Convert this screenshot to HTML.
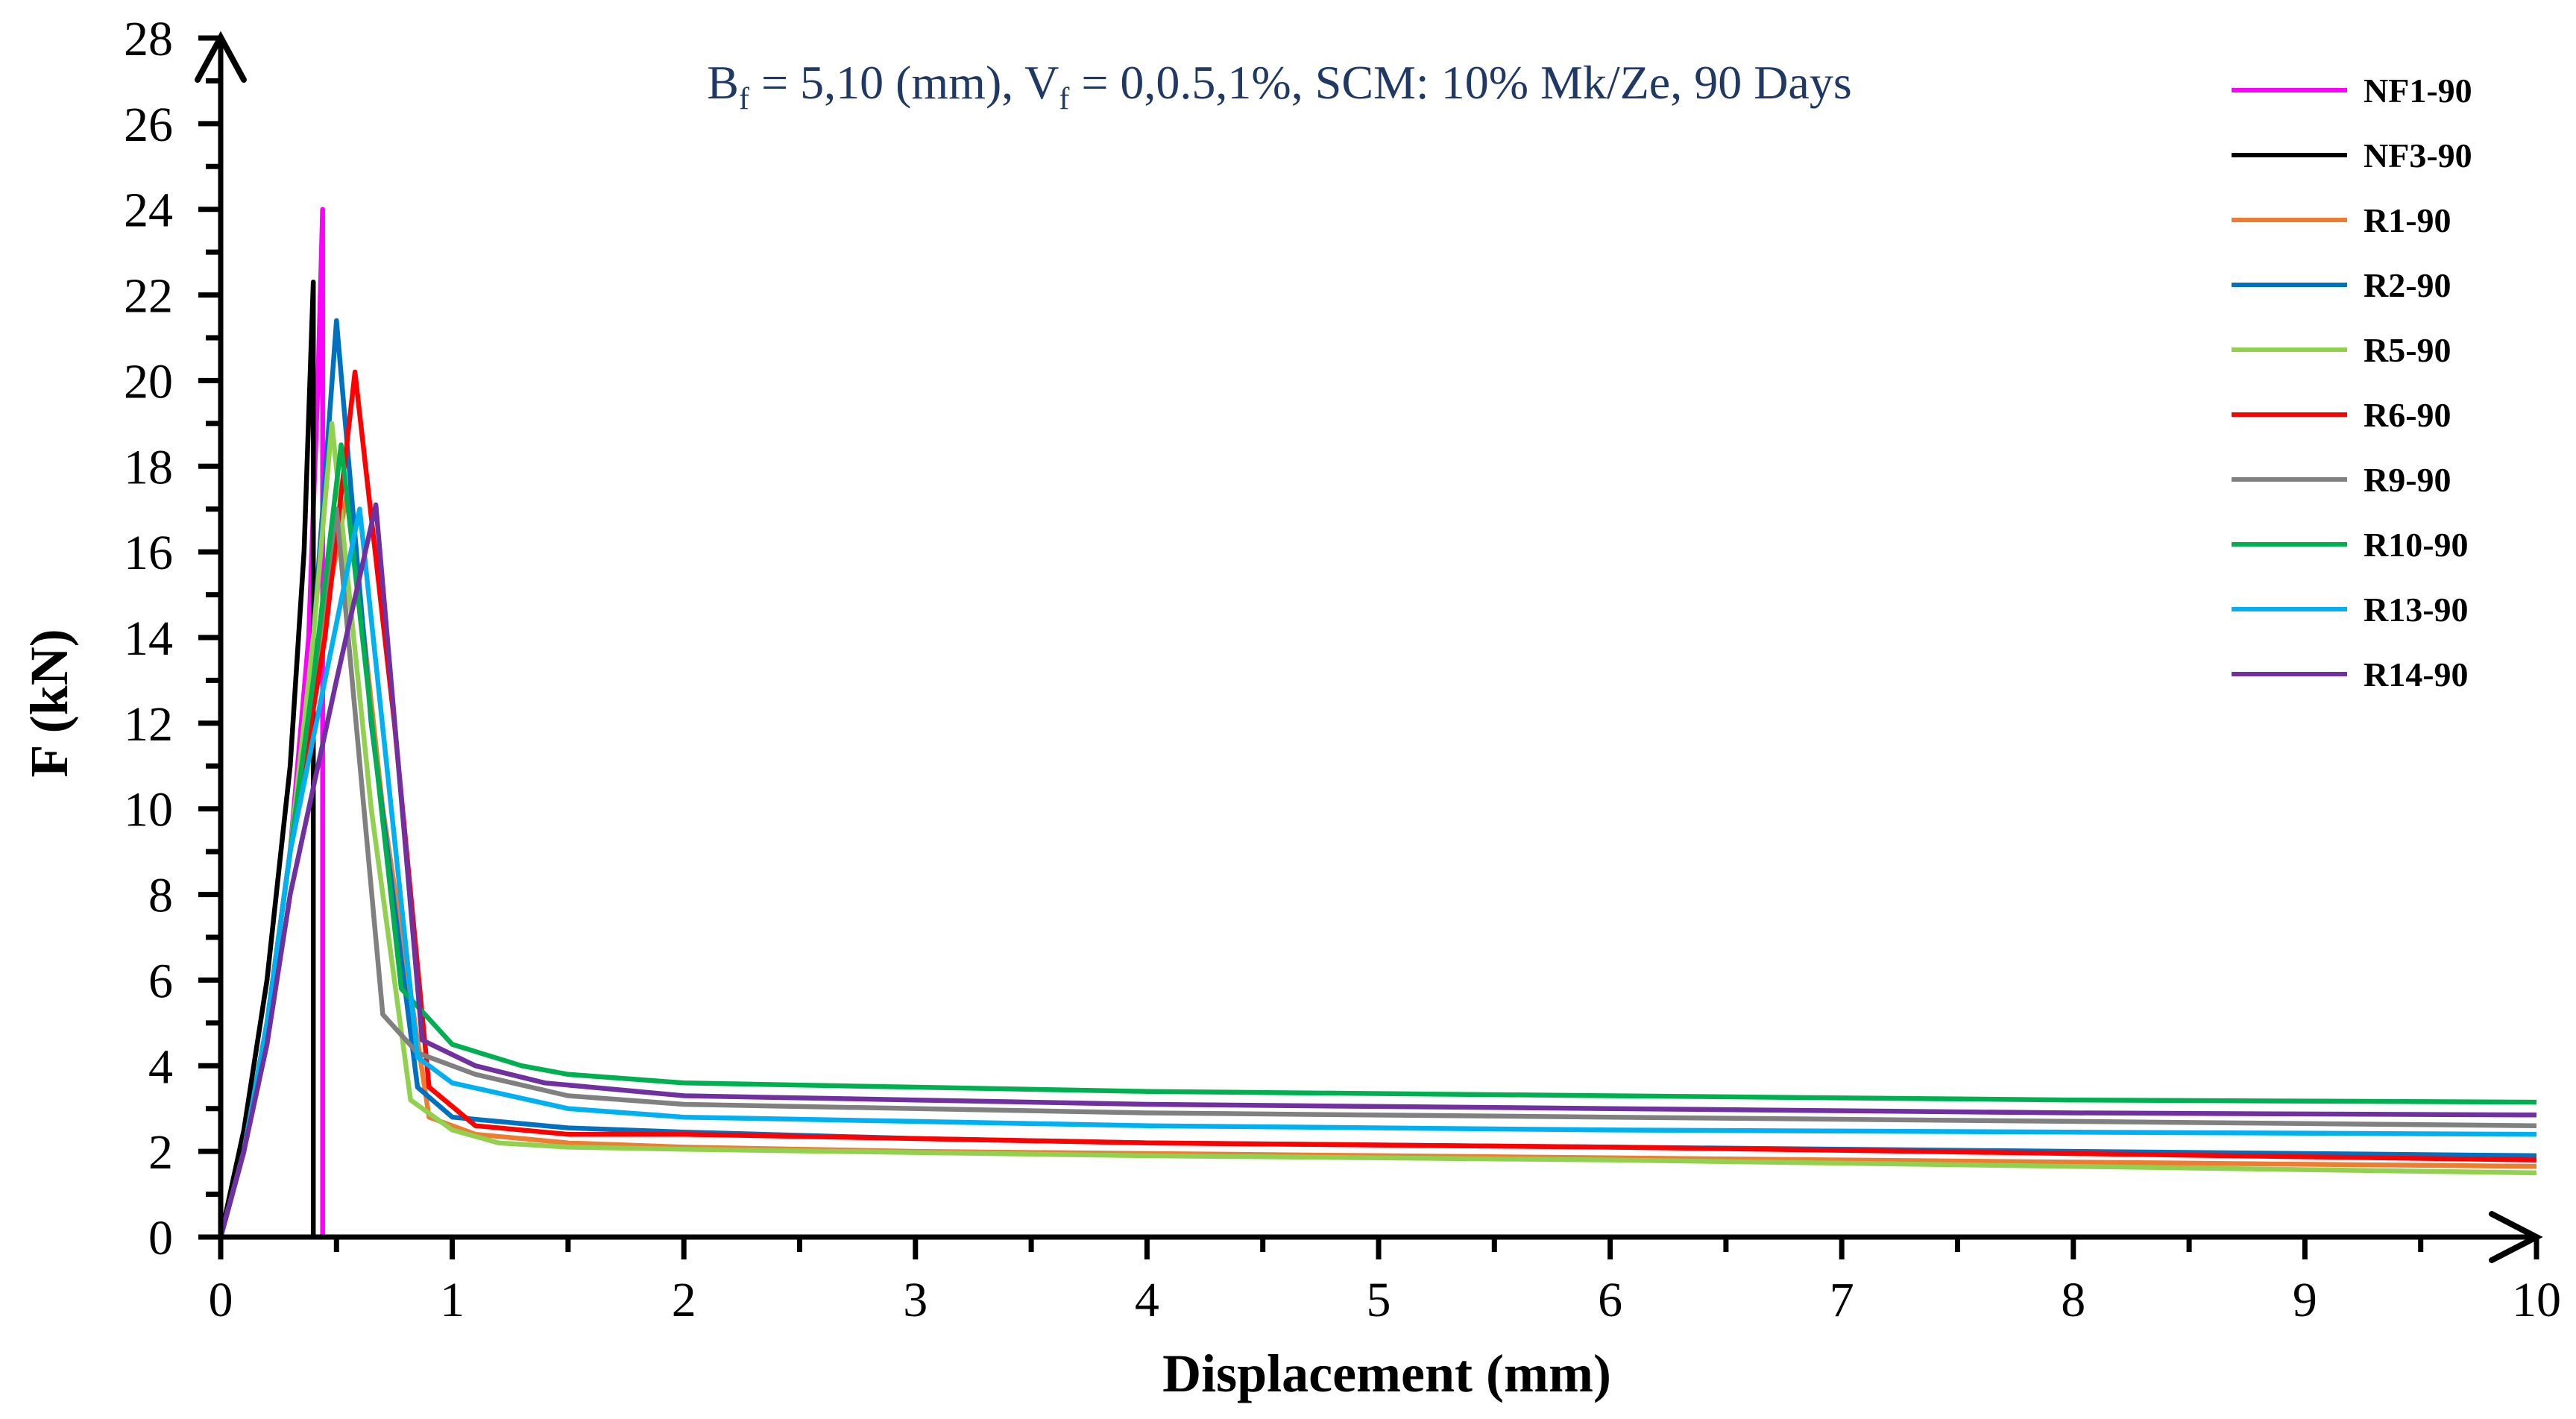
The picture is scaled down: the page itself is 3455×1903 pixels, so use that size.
<!DOCTYPE html>
<html><head><meta charset="utf-8"><style>
html,body{margin:0;padding:0;background:#fff}
svg{display:block}
text{font-family:"Liberation Serif",serif}
</style></head><body>
<svg id="chart" width="3455" height="1903" viewBox="0 0 3455 1903" xmlns="http://www.w3.org/2000/svg">
<g id="series"></g>
<g id="axes"></g>
<g id="legend"></g>
<text x="1716" y="132" font-size="64" fill="#1f3864" text-anchor="middle">B<tspan font-size="42" dy="14">f</tspan><tspan dy="-14"> = 5,10 (mm), V</tspan><tspan font-size="42" dy="14">f</tspan><tspan dy="-14"> = 0,0.5,1%, SCM: 10% Mk/Ze, 90 Days</tspan></text>
<text x="1860" y="1866" font-size="72" font-weight="bold" text-anchor="middle">Displacement (mm)</text>
<text transform="translate(90,943) rotate(-90)" font-size="72" font-weight="bold" text-anchor="middle">F (kN)</text>
</svg>
<script>
const seriesNames = ["NF1-90","NF3-90","R1-90","R2-90","R5-90","R6-90","R9-90","R10-90","R13-90","R14-90"];
const seriesColors = ["#ff00ff","#000000","#ed7d31","#0070c0","#92d050","#ff0000","#808080","#00b050","#00b0f0","#7030a0"];
const xNF1 = [0,0.1,0.2,0.3,0.38,0.42,0.44,0.44];
const yNF1 = [0,2,5,9,14,20,24,0];
const xNF3 = [0,0.1,0.2,0.3,0.36,0.4,0.4];
const yNF3 = [0,2.5,6,11,16,22.3,0];
const xR1 = [0,0.1,0.2,0.3,0.4,0.55,0.7,0.9,1.1,1.5,2,3,4,6,8,10];
const yR1 = [0,2,5,9,13,17.5,10,2.8,2.4,2.2,2.1,2.0,1.95,1.85,1.75,1.65];
const xR2 = [0,0.1,0.2,0.3,0.4,0.5,0.65,0.85,1,1.5,2,3,4,6,8,10];
const yR2 = [0,2,5,9,14,21.4,12,3.5,2.8,2.55,2.45,2.3,2.2,2.1,2.0,1.9];
const xR5 = [0,0.1,0.2,0.3,0.4,0.48,0.65,0.82,1,1.2,1.5,2,4,6,8,10];
const yR5 = [0,2,5,9,14,19,10,3.2,2.5,2.2,2.1,2.05,1.9,1.8,1.65,1.5];
const xR6 = [0,0.1,0.2,0.3,0.45,0.58,0.75,0.9,1.1,1.5,2,3,4,6,8,10];
const yR6 = [0,2,5,9,14,20.2,12,3.5,2.6,2.4,2.4,2.3,2.2,2.1,1.95,1.8];
const xR9 = [0,0.1,0.2,0.3,0.4,0.5,0.7,0.85,1.1,1.5,2,4,6,8,10];
const yR9 = [0,2,5,9,13,17,5.2,4.3,3.8,3.3,3.1,2.9,2.8,2.7,2.6];
const xR10 = [0,0.1,0.2,0.3,0.4,0.52,0.78,1,1.3,1.5,2,3,4,6,8,10];
const yR10 = [0,2,5,9,13,18.5,5.8,4.5,4.0,3.8,3.6,3.5,3.4,3.3,3.2,3.15];
const xR13 = [0,0.1,0.2,0.3,0.45,0.6,0.85,1,1.5,2,3,4,6,8,10];
const yR13 = [0,2,5,9,13,17,4.2,3.6,3.0,2.8,2.7,2.6,2.5,2.45,2.4];
const xR14 = [0,0.1,0.2,0.3,0.5,0.67,0.87,1.1,1.4,2,3,4,6,8,10];
const yR14 = [0,2,4.5,8,13,17.1,4.6,4.0,3.6,3.3,3.2,3.1,3.0,2.9,2.85];
const seriesX = [xNF1,xNF3,xR1,xR2,xR5,xR6,xR9,xR10,xR13,xR14];
const seriesY = [yNF1,yNF3,yR1,yR2,yR5,yR6,yR9,yR10,yR13,yR14];
const xTickLabels = ["0","1","2","3","4","5","6","7","8","9","10"];
const yTickLabels = ["0","2","4","6","8","10","12","14","16","18","20","22","24","26","28"];

const NS="http://www.w3.org/2000/svg";
const X0=296,X1=3402,Y0=1659,Y1=51;
const sx=v=>X0+(v/10)*(X1-X0);
const sy=v=>Y0-(v/28)*(Y0-Y1);
function mk(tag,attrs,parent){const e=document.createElementNS(NS,tag);for(const k in attrs)e.setAttribute(k,attrs[k]);parent.appendChild(e);return e;}
const axes=document.getElementById('axes');
const sg=document.getElementById('series');
seriesNames.forEach((n,i)=>{
  const d=seriesX[i].map((x,j)=>(j?'L':'M')+sx(x).toFixed(1)+' '+sy(seriesY[i][j]).toFixed(1)).join(' ');
  const p=mk('path',{d:d,fill:'none',stroke:seriesColors[i],'stroke-width':6.5,'stroke-linejoin':'round'},sg);
  
  
});
const ya=mk('line',{x1:X0,y1:Y0+4,x2:X0,y2:48,stroke:'#000','stroke-width':7},axes);


const ar1=mk('path',{d:`M${X0-31} 107 L${X0} 50 L${X0+31} 107`,fill:'none',stroke:'#000','stroke-width':8,'stroke-linecap':'round'},axes);


const xa=mk('line',{x1:X0-20,y1:Y0,x2:X1,y2:Y0,stroke:'#000','stroke-width':7},axes);


const ar2=mk('path',{d:`M${X1-60} 1628 L${X1} ${Y0} L${X1-60} 1690`,fill:'none',stroke:'#000','stroke-width':8,'stroke-linecap':'round'},axes);


for(let v=0;v<=28;v++){
  const major=v%2===0;
  const t=mk('line',{x1:X0-(major?30:20),y1:sy(v),x2:X0,y2:sy(v),stroke:'#000','stroke-width':7},axes);
  
  
}
yTickLabels.forEach(l=>{
  const t=mk('text',{x:X0-64,y:sy(+l)+23,'font-size':66,'text-anchor':'end'},axes);
  t.textContent=l;
  
  
});
for(let k=0;k<=20;k++){
  const v=k/2,major=k%2===0;
  const t=mk('line',{x1:sx(v),y1:Y0,x2:sx(v),y2:Y0+(major?30:20),stroke:'#000','stroke-width':7},axes);
  
  
}
xTickLabels.forEach(l=>{
  const t=mk('text',{x:sx(+l),y:1765,'font-size':66,'text-anchor':'middle'},axes);
  t.textContent=l;
  
  
});
const lg=document.getElementById('legend');
seriesNames.forEach((n,i)=>{
  const y=121+87*i;
  const g=mk('g',{},lg);
  
  
  mk('line',{x1:2993,y1:y,x2:3148,y2:y,stroke:seriesColors[i],'stroke-width':6},g);
  const t=mk('text',{x:3170,y:y+16,'font-size':46,'font-weight':'bold'},g);
  t.textContent=n;
});
</script>
</body></html>
